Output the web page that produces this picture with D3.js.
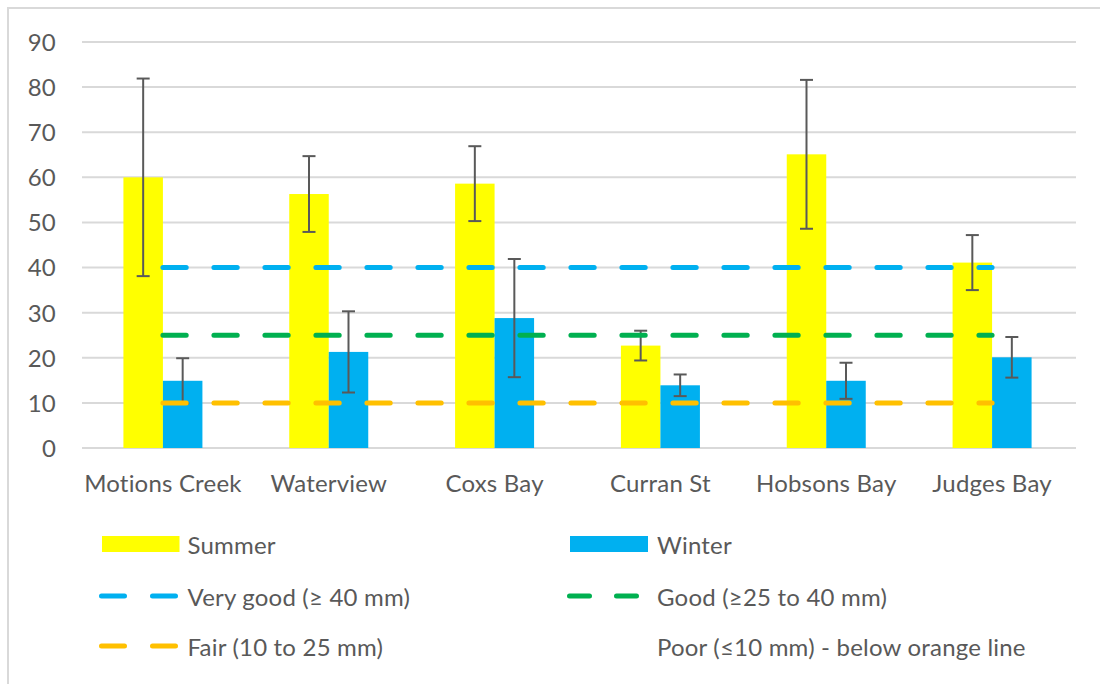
<!DOCTYPE html>
<html>
<head>
<meta charset="utf-8">
<script src="https://cdn.jsdelivr.net/npm/d3@7"></script>
<style>
  html, body { margin: 0; padding: 0; background: #fff; }
  svg { display: block; font-family: Lato, "Open Sans", sans-serif; }
</style>
</head>
<body>
<svg id="chart" width="1100" height="684"></svg>
<script>
// ---- data ----
const categories = ["Motions Creek", "Waterview", "Coxs Bay", "Curran St", "Hobsons Bay", "Judges Bay"];
const summerValues = [60, 56.3, 58.6, 22.7, 65.1, 41.1];
const summerErrors = [21.9, 8.4, 8.3, 3.3, 16.5, 6.1];
const winterValues = [14.9, 21.3, 28.8, 13.9, 14.9, 20.1];
const winterErrors = [5.0, 9.0, 13.1, 2.4, 4.0, 4.5];
const yTicks = [0, 10, 20, 30, 40, 50, 60, 70, 80, 90];
const thresholds = [
  { name: "Very good (≥ 40 mm)", value: 40, color: "#00B0F0" },
  { name: "Good (≥25 to 40 mm)", value: 25, color: "#00B050" },
  { name: "Fair (10 to 25 mm)", value: 10, color: "#FFC000" }
];
const seriesNames = ["Summer", "Winter"];
const seriesColors = ["#FFFF00", "#00B0F0"];
const poorNote = "Poor (≤10 mm) - below orange line";

// ---- layout ----
const svg = d3.select("#chart");
const plot = { left: 82, right: 1076, top: 42, bottom: 448 };
const textColor = "#595959";
const fontSize = 24;
const letterSp = "0.2px";

svg.append("rect").attr("x", 8).attr("y", 8).attr("width", 1200).attr("height", 800)
  .attr("fill", "#fff").attr("stroke", "#d9d9d9").attr("stroke-width", 2);

const x = d3.scaleBand().domain(categories).range([80, 1075]).paddingInner(0).paddingOuter(0);
const y = d3.scaleLinear().domain([0, 90]).range([plot.bottom, plot.top]);
const barW = 39.5;
const xs = d3.scaleBand().domain(seriesNames).range([-barW, barW]);

// gridlines
svg.append("g").selectAll("line").data(yTicks).join("line")
  .attr("x1", plot.left).attr("x2", plot.right)
  .attr("y1", d => y(d)).attr("y2", d => y(d))
  .attr("stroke", "#d9d9d9").attr("stroke-width", 2);

// y axis labels
const yAxis = d3.axisLeft(y).tickValues(yTicks).tickSize(0).tickPadding(0);
const yg = svg.append("g").attr("transform", `translate(56,0)`).call(yAxis);
yg.select(".domain").remove();
yg.selectAll("text").attr("fill", textColor).style("font-size", fontSize + "px")
  .style("letter-spacing", letterSp)
  .style("font-family", "Lato, 'Open Sans', sans-serif").attr("dy", "0.35em");

// x axis labels
const xAxis = d3.axisBottom(x).tickSize(0).tickPadding(0);
const xg = svg.append("g").attr("transform", `translate(0,${plot.bottom})`).call(xAxis);
xg.select(".domain").remove();
xg.selectAll("text").attr("fill", textColor).style("font-size", fontSize + "px")
  .style("letter-spacing", letterSp)
  .style("font-family", "Lato, 'Open Sans', sans-serif").attr("y", 44).attr("dy", 0);

// bars
const rows = categories.map((c, i) => ({
  cat: c,
  vals: [
    { s: "Summer", v: summerValues[i], e: summerErrors[i], color: seriesColors[0] },
    { s: "Winter", v: winterValues[i], e: winterErrors[i], color: seriesColors[1] }
  ]
}));

const groups = svg.append("g").selectAll("g").data(rows).join("g")
  .attr("transform", d => `translate(${x(d.cat) + x.bandwidth() / 2},0)`);

groups.selectAll("rect").data(d => d.vals).join("rect")
  .attr("x", d => xs(d.s)).attr("width", xs.bandwidth())
  .attr("y", d => y(d.v)).attr("height", d => y(0) - y(d.v))
  .attr("fill", d => d.color);

// error bars
const eb = groups.selectAll("g.err").data(d => d.vals).join("g").attr("class", "err")
  .attr("transform", d => `translate(${xs(d.s) + xs.bandwidth() / 2},0)`);
const errColor = "#595959";
eb.append("line").attr("x1", 0).attr("x2", 0)
  .attr("y1", d => y(d.v + d.e)).attr("y2", d => y(d.v - d.e))
  .attr("stroke", errColor).attr("stroke-width", 2);
eb.append("line").attr("x1", -6.5).attr("x2", 6.5)
  .attr("y1", d => y(d.v + d.e)).attr("y2", d => y(d.v + d.e))
  .attr("stroke", errColor).attr("stroke-width", 2);
eb.append("line").attr("x1", -6.5).attr("x2", 6.5)
  .attr("y1", d => y(d.v - d.e)).attr("y2", d => y(d.v - d.e))
  .attr("stroke", errColor).attr("stroke-width", 2);

// threshold lines (category center to category center)
const cx = c => x(c) + x.bandwidth() / 2;
const line = d3.line().x(d => cx(d.c)).y(d => y(d.v));
svg.append("g").selectAll("path").data(thresholds).join("path")
  .attr("d", t => line(categories.map(c => ({ c, v: t.value }))))
  .attr("fill", "none").attr("stroke", t => t.color).attr("stroke-width", 5)
  .attr("stroke-linecap", "round").attr("stroke-dasharray", "23.3 27.7");

// legend
const leg = svg.append("g");
const rowY = [544, 596, 646];
const textStyle = sel => sel.attr("fill", textColor).style("font-size", fontSize + "px")
  .style("letter-spacing", letterSp)
  .attr("dominant-baseline", "central");

const swatchPos = [{ x0: 102, w: 77.5, tx: 187.5 }, { x0: 570, w: 78, tx: 657 }];
seriesNames.forEach((s, i) => {
  const p = swatchPos[i];
  leg.append("rect").attr("x", p.x0).attr("y", rowY[0] - 8).attr("width", p.w).attr("height", 16)
    .attr("fill", seriesColors[i]);
  leg.append("text").attr("x", p.tx).attr("y", rowY[0]).text(s).call(textStyle);
});

const legPos = [
  { x0: 101.5, x1: 177, tx: 187.5, y: rowY[1], dash: "23 28" },
  { x0: 569.5, x1: 638, tx: 657, y: rowY[1], dash: "20 27" },
  { x0: 101.5, x1: 177, tx: 187.5, y: rowY[2], dash: "23 28" }
];
thresholds.forEach((t, i) => {
  const p = legPos[i];
  leg.append("line").attr("x1", p.x0).attr("x2", p.x1)
    .attr("y1", p.y).attr("y2", p.y)
    .attr("stroke", t.color).attr("stroke-width", 5).attr("stroke-linecap", "round")
    .attr("stroke-dasharray", p.dash);
  leg.append("text").attr("x", p.tx).attr("y", p.y).text(t.name).call(textStyle);
});
leg.append("text").attr("x", 657).attr("y", rowY[2]).text(poorNote).call(textStyle);
</script>
</body>
</html>
